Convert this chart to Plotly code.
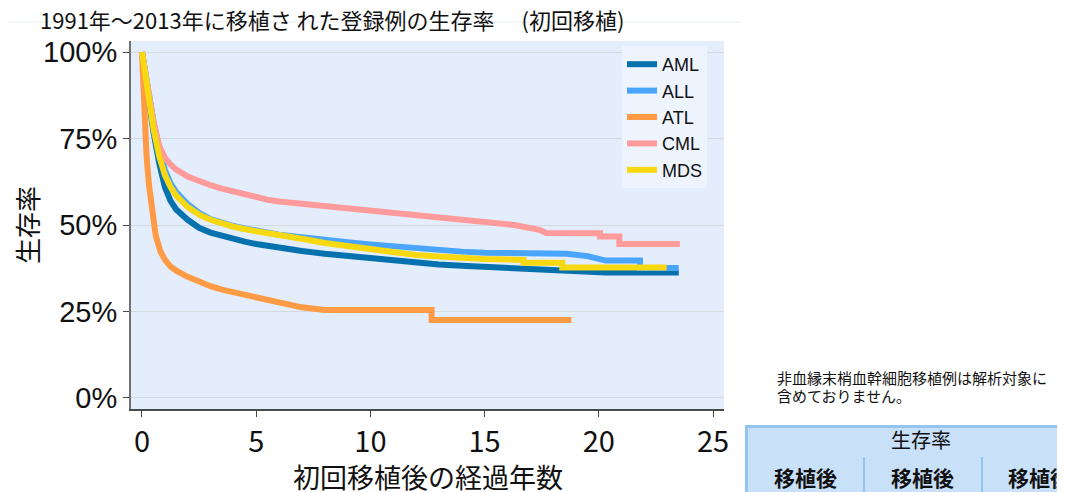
import plotly.graph_objects as go

# ---------------- data ----------------
aml_t = [0, 0.1, 0.25, 0.5, 0.75, 1.0, 1.25, 1.5, 2, 2.5, 3, 3.5, 4, 4.5, 5, 5.5, 6, 7, 8, 9, 10,
         11, 12, 13, 14, 15, 16, 17, 18, 19, 20.3, 23.5]
aml_s = [100, 95, 87, 77, 68, 61, 57, 54.5, 51.5, 49.2, 47.8, 46.8, 46.0, 45.2, 44.5, 43.9, 43.4, 42.5,
         41.7, 41.0, 40.3, 39.6, 39.0, 38.6, 38.2, 37.9, 37.7, 37.6, 37.3, 36.9, 36.3, 36.3]

all_t = [0, 0.1, 0.25, 0.5, 0.75, 1.0, 1.25, 1.5, 2, 2.5, 3, 3.5, 4, 4.5, 5, 6, 7, 8, 9, 10, 11, 12,
         13, 14, 15, 16, 17, 18.6, 19.5, 19.9, 20.3, 21.8, 21.8, 23.5]
all_s = [100, 96, 89, 80, 72, 66, 62, 59.5, 56, 53.5, 51.7, 50.5, 49.7, 49.0, 48.3, 47.2, 46.5, 45.6,
         45.0, 44.4, 43.8, 43.2, 42.8, 42.3, 42.0, 41.8, 41.7, 41.7, 41.0, 40.4, 39.7, 39.7, 37.6, 37.6]

atl_t = [0, 0.1, 0.2, 0.3, 0.4, 0.5, 0.6, 0.8, 1.0, 1.25, 1.5, 2, 2.5, 3, 3.5, 4, 4.5, 5, 5.5, 6, 6.5,
         7, 7.5, 8, 12.68, 12.68, 18.8]
atl_s = [100, 82, 70, 62, 56, 50, 47, 42.5, 40, 38, 36.8, 35, 33.5, 32.3, 31.3, 30.5, 29.8, 29, 28.3,
         27.6, 26.9, 26.2, 25.7, 25.4, 25.4, 22.5, 22.5]

cml_t = [0, 0.1, 0.25, 0.5, 0.75, 1.0, 1.25, 1.5, 2, 2.5, 3, 3.5, 4, 4.5, 5, 5.5, 6, 7, 8, 9, 10, 11,
         12, 13, 14, 15, 16.3, 17.4, 17.7, 20.05, 20.05, 20.9, 20.9, 23.55]
cml_s = [100, 96, 90, 80, 73, 69.5, 67.5, 66, 64, 62.6, 61.5, 60.5, 59.6, 58.8, 58, 57.3, 56.8, 56.1,
         55.5, 54.8, 54.1, 53.6, 52.9, 52.2, 51.5, 50.8, 50.0, 48.6, 47.7, 47.6, 46.7, 46.7, 44.5, 44.5]

mds_t = [0, 0.1, 0.25, 0.5, 0.75, 1.0, 1.25, 1.5, 2, 2.5, 3, 3.5, 4, 5, 6, 7, 8, 9, 10, 11, 12, 13,
         14, 15, 16.7, 16.7, 18.4, 18.4, 22.97]
mds_s = [100, 95, 88, 78, 70, 64.5, 61, 58.5, 55.2, 53, 51.5, 50.3, 49.5, 48.2, 46.9, 46.0, 44.8,
         43.9, 43.0, 42.1, 41.3, 40.9, 40.5, 40.2, 39.9, 39.1, 39.1, 37.7, 37.7]

series_names = ["AML", "ALL", "ATL", "CML", "MDS"]
series_colors = ["#0571AE", "#4AA5FF", "#FF9A45", "#FF9B9B", "#F7D811"]

x_ticks = [0, 5, 10, 15, 20, 25]
y_ticks = [0, 25, 50, 75, 100]
y_tick_labels = ["0%", "25%", "50%", "75%", "100%"]

title_text = "1991年～2013年に移植さ れた登録例の生存率　 (初回移植)"
x_title = "初回移植後の経過年数"
y_title = "生存率"
note_lines = ["非血縁末梢血幹細胞移植例は解析対象に", "含めておりません。"]
table_header = "生存率"
table_cols = ["移植後", "移植後", "移植後"]

# ---------------- figure ----------------
OFF = 8                      # page body margin
WF, HF = 1065 - OFF, 492 - OFF
L, R, T, B = 131, 724, 41, 409   # plot area in page pixels


def px(x):
    return (x - L) / (R - L)


def py(y):
    return (B - y) / (B - T)


fig = go.Figure()
all_series = [(aml_t, aml_s), (all_t, all_s), (atl_t, atl_s), (cml_t, cml_s), (mds_t, mds_s)]
for (t, s), name, col in zip(all_series, series_names, series_colors):
    fig.add_trace(go.Scatter(x=t, y=s, mode="lines", name=name,
                             line=dict(color=col, width=6)))

CJK = "Noto Sans CJK JP"
fig.update_layout(
    width=WF, height=HF,
    margin=dict(l=L - OFF, r=WF - (R - OFF), t=T - OFF, b=HF - (B - OFF), pad=0, autoexpand=False),
    paper_bgcolor="white",
    plot_bgcolor="#E3EDFB",
    showlegend=True,
    legend=dict(x=px(622), y=py(46), xanchor="left", yanchor="top",
                bgcolor="#EEF4FD", borderwidth=0, itemwidth=30,
                font=dict(family="Liberation Sans, " + CJK, size=18, color="#111111"),
                tracegroupgap=0),
    xaxis=dict(range=[-0.48, 25.48], tickvals=x_ticks, showgrid=False, zeroline=False, automargin=False,
               showline=True, linecolor="#4a4a4a", linewidth=1.5, ticks="outside", ticklen=6,
               tickcolor="#4a4a4a", tickfont=dict(family="Liberation Sans Narrow, " + CJK, size=29,
                                                   color="#111111")),
    yaxis=dict(range=[-3.2, 103.2], tickvals=y_ticks, ticktext=y_tick_labels, showgrid=True,
               automargin=False,
               gridcolor="#D5DAE0", gridwidth=1, zeroline=False, showline=True, linecolor="#707070",
               linewidth=2, ticks="outside", ticklen=6, tickcolor="#4a4a4a",
               tickfont=dict(family="Liberation Sans, " + CJK, size=29, color="#111111"),
               title=dict(text=y_title, font=dict(family=CJK, size=26, color="#111111"), standoff=2)),
)

shapes = []
# faint page rule through the title
shapes.append(dict(type="line", xref="paper", yref="paper", x0=px(0), x1=px(742), y0=py(22), y1=py(22),
                   line=dict(color="#E6EDF3", width=1), layer="below"))
# table header box
shapes.append(dict(type="rect", xref="paper", yref="paper", x0=px(746), x1=px(1075), y0=py(426), y1=py(500),
                   fillcolor="#C8E0F8", line=dict(width=0)))
shapes.append(dict(type="line", xref="paper", yref="paper", x0=px(745), x1=px(1075), y0=py(426.5), y1=py(426.5),
                   line=dict(color="#93C4F2", width=3)))
shapes.append(dict(type="line", xref="paper", yref="paper", x0=px(746.5), x1=px(746.5), y0=py(425), y1=py(500),
                   line=dict(color="#93C4F2", width=3)))
for xs in (864, 982):
    shapes.append(dict(type="line", xref="paper", yref="paper", x0=px(xs), x1=px(xs), y0=py(457), y1=py(500),
                       line=dict(color="#93C4F2", width=2)))
fig.update_layout(shapes=shapes)

ann = []
ann.append(dict(text=title_text, xref="paper", yref="paper", x=px(38), y=py(19), xanchor="left",
                yanchor="middle", showarrow=False,
                font=dict(family="Liberation Sans Narrow, " + CJK, size=22, color="#111111")))
ann.append(dict(text=x_title, xref="paper", yref="paper", x=px(428), y=py(476), xanchor="center",
                yanchor="middle", showarrow=False, font=dict(family=CJK, size=27, color="#111111")))
ann.append(dict(text=note_lines[0], xref="paper", yref="paper", x=px(775), y=py(377.5), xanchor="left",
                yanchor="middle", showarrow=False, font=dict(family=CJK, size=15, color="#111111")))
ann.append(dict(text=note_lines[1], xref="paper", yref="paper", x=px(775), y=py(395), xanchor="left",
                yanchor="middle", showarrow=False, font=dict(family=CJK, size=15, color="#111111")))
ann.append(dict(text=table_header, xref="paper", yref="paper", x=px(921), y=py(439), xanchor="center",
                yanchor="middle", showarrow=False, font=dict(family=CJK, size=20, color="#111111")))
for cx, txt in zip((805, 922, 1039), table_cols):
    ann.append(dict(text="<b>" + txt + "</b>", xref="paper", yref="paper", x=px(cx), y=py(477),
                    xanchor="center", yanchor="middle", showarrow=False,
                    font=dict(family=CJK, size=21, color="#111111")))
fig.update_layout(annotations=ann)

fig.write_html("out.html")
